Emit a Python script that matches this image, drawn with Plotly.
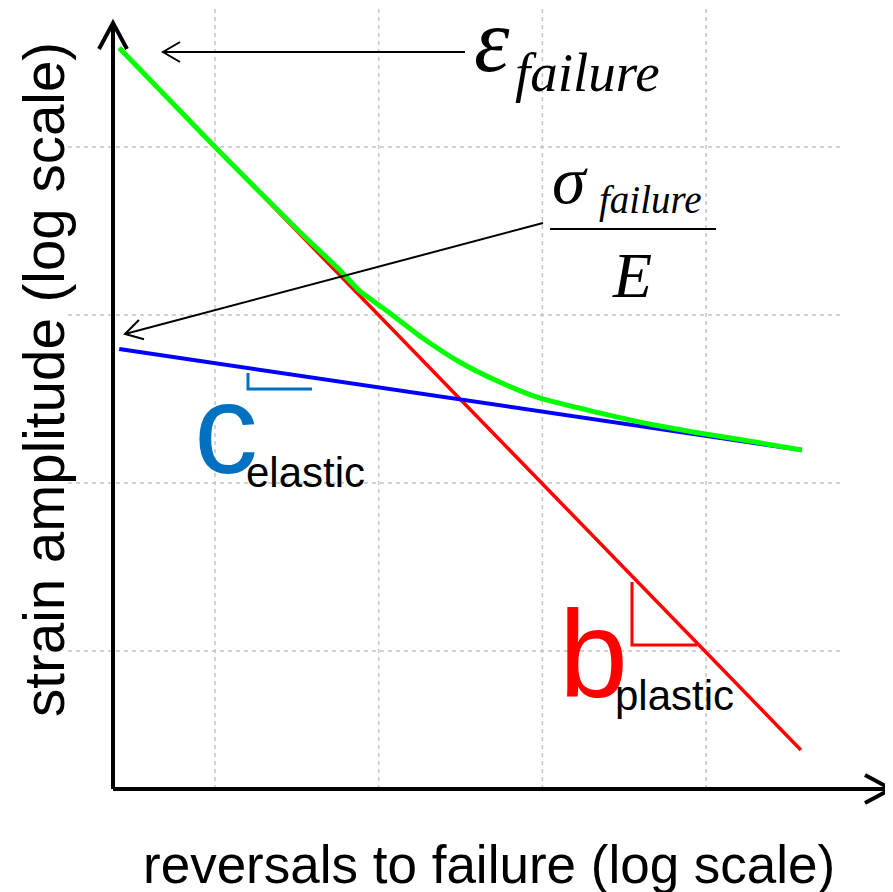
import math
import plotly.graph_objects as go

# the page body keeps an 8px margin, so the figure is 8px smaller
OFF = 8
W, H = 893 - OFF, 892 - OFF

# decades on both axes (log10 units)
grid_x = [1, 2, 3, 4]
grid_y = [1, 2, 3, 4]

# plastic part (red), elastic part (blue), total strain (green)
plastic_x = [0.415, 4.579]
plastic_y = [4.589, 0.411]

elastic_x = [0.415, 4.585]
elastic_y = [2.798, 2.196]

total_x = [0.415, 1.000, 1.518, 1.762, 1.884, 2.067, 2.268, 2.494, 2.738,
           2.982, 3.348, 3.652, 3.957, 4.262, 4.585]
total_y = [4.589, 4.000, 3.494, 3.268, 3.143, 3.012, 2.863, 2.720, 2.601,
           2.506, 2.417, 2.351, 2.298, 2.250, 2.196]

# size of one decade on screen
ppx, ppy = 163.7, 168.0
x_lo = 1 - (215 - OFF) / ppx
x_hi = x_lo + W / ppx
y_hi = 4 + (147 - OFF) / ppy
y_lo = y_hi - H / ppy


def P(px, py):
    # screen position -> axis units
    return x_lo + (px - OFF) / ppx, y_hi - (py - OFF) / ppy


sans = "Arial, Liberation Sans, sans-serif"
serif = "Times New Roman, Liberation Serif, serif"

shapes = []
annos = []

ox, oy = P(113, 789)
gx_top = P(0, 5)[1]
gy_l, gy_r = P(68, 0)[0], P(843, 0)[0]

for g in grid_x:
    shapes.append(dict(type="line", x0=g, x1=g, y0=oy, y1=gx_top, layer="below",
                       line=dict(color="#c4c4c4", width=1.5, dash="4px,4px")))
for g in grid_y:
    shapes.append(dict(type="line", x0=gy_l, x1=gy_r, y0=g, y1=g, layer="below",
                       line=dict(color="#c4c4c4", width=1.5, dash="4px,4px")))


def arrow(x0, y0, x1, y1, w, depth, half):
    shapes.append(dict(type="line", x0=x0, y0=y0, x1=x1, y1=y1,
                       line=dict(color="black", width=w)))
    dx = (x1 - x0) * ppx
    dy = (y1 - y0) * ppy
    n = math.hypot(dx, dy)
    ux, uy = dx / n, dy / n
    ax_, ay_ = -depth * ux - half * uy, -depth * uy + half * ux
    bx_, by_ = -depth * ux + half * uy, -depth * uy - half * ux
    path = f"M{ax_:.1f},{ay_:.1f} L0,0 L{bx_:.1f},{by_:.1f}"
    shapes.append(dict(type="path", xsizemode="pixel", ysizemode="pixel",
                       xanchor=x1, yanchor=y1, path=path,
                       line=dict(color="black", width=w)))


# axes
arrow(ox, oy, *P(113, 23), 4, 26, 14)
arrow(ox, oy, *P(891, 789), 4, 26, 14)
# pointers
arrow(*P(465, 52), *P(163, 52), 2, 17, 10)
arrow(*P(543, 223), *P(125, 334), 2, 17, 10)

# fraction bar
bx0, by0 = P(550, 229)
bx1, by1 = P(716, 229)
shapes.append(dict(type="line", x0=bx0, x1=bx1, y0=by0, y1=by1,
                   line=dict(color="black", width=2)))

# slope marks
a, b, c = P(248, 373), P(248, 389), P(312, 389)
shapes.append(dict(type="path", path=f"M{a[0]},{a[1]} L{b[0]},{b[1]} L{c[0]},{c[1]}",
                   line=dict(color="#0070C0", width=3)))
a, b, c = P(632, 582), P(632, 645), P(697, 645)
shapes.append(dict(type="path", path=f"M{a[0]},{a[1]} L{b[0]},{b[1]} L{c[0]},{c[1]}",
                   line=dict(color="#FF0000", width=3)))


def text(s, px, py, size, family=sans, color="black", angle=0):
    x, y = P(px, py)
    annos.append(dict(x=x, y=y, text=s, showarrow=False, textangle=angle,
                      xanchor="center", yanchor="middle",
                      font=dict(family=family, size=size, color=color)))


text("<i>ε</i>", 492, 40, 90, serif)
text("<i>failure</i>", 587, 72, 55, serif)
text("<i>σ</i>", 570, 180, 68, serif)
text("<i>failure</i>", 650, 200, 39, serif)
text("<i>E</i>", 632, 275, 64, serif)

text("c", 226, 428, 128, color="#0070C0")
text("elastic", 305, 472, 42)
text("b", 593, 654, 124, color="#FF0000")
text("plastic", 674, 695, 42)

text("reversals to failure (log scale)", 489, 864, 53)
text("strain amplitude (log scale)", 44, 380, 56.5, angle=-90)

fig = go.Figure()
fig.add_trace(go.Scatter(x=plastic_x, y=plastic_y, mode="lines",
                         line=dict(color="#FF0000", width=3.5)))
fig.add_trace(go.Scatter(x=elastic_x, y=elastic_y, mode="lines",
                         line=dict(color="#0000FF", width=4)))
fig.add_trace(go.Scatter(x=total_x, y=total_y, mode="lines",
                         line=dict(color="#00FF00", width=5, shape="spline", smoothing=0.6)))

fig.update_layout(
    width=W, height=H,
    margin=dict(l=0, r=0, t=0, b=0),
    paper_bgcolor="white", plot_bgcolor="white",
    showlegend=False,
    xaxis=dict(range=[x_lo, x_hi], visible=False, fixedrange=True),
    yaxis=dict(range=[y_lo, y_hi], visible=False, fixedrange=True),
    shapes=shapes,
    annotations=annos,
)

fig.write_html("out.html", config=dict(displayModeBar=False))
